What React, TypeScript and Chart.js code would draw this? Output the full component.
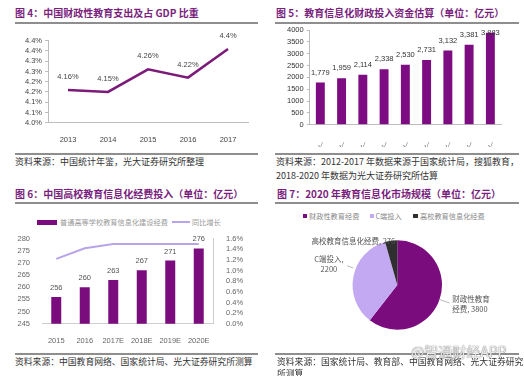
import React, { useEffect, useRef } from "react";
import { Chart, registerables } from "chart.js";
Chart.register(...registerables);

const LATIN = "'Liberation Sans', Arial, sans-serif";
const CJK = "'Noto Sans CJK SC', 'Noto Sans', sans-serif";

// 图4
const gdpYears = ["2013", "2014", "2015", "2016", "2017"];
const gdpShare = [4.16, 4.15, 4.26, 4.22, 4.36];
const gdpShareLabels = ["4.16%", "4.15%", "4.26%", "4.22%", "4.4%"];
const gdpTickValues = [4.0, 4.05, 4.1, 4.15, 4.2, 4.25, 4.3, 4.35, 4.4];
const gdpTickLabels = ["4.0%", "4.1%", "4.1%", "4.2%", "4.2%", "4.3%", "4.3%", "4.4%", "4.4%"];

// 图5
const fundCats = ["√", "√", "√", "√", "√", "√", "√", "√", "√"];
const fundValues = [1779, 1959, 2114, 2338, 2530, 2731, 3132, 3381, 3883];
const fundTickValues = [0, 500, 1000, 1500, 2000, 2500, 3000, 3500, 4000];

// 图6
const uniYears = ["2015", "2016", "2017E", "2018E", "2019E", "2020E"];
const uniFunding = [256, 260, 263, 267, 271, 276];
const uniGrowth = [1.22, 1.42, 1.5, 1.5, 1.5, 1.5];
const uniLeftTicks = [245, 250, 255, 260, 265, 270, 275, 280];
const uniRightTicks = [0, 0.2, 0.4, 0.6, 0.8, 1.0, 1.2, 1.4, 1.6];

// 图7
const marketLabels = ["财政性教育经费", "C端投入", "高校教育信息化经费"];
const marketValues = [3800, 2200, 276];

const PURPLE = "#7b0c7e";
const LAVENDER = "#c3a8f2";
const LINE_LAV = "#b9a4ea";
const DARK = "#2f2f2f";

function valueLabels(id: string, dsIndex: number, texts: string[], offset: number, color: string, minTop = -999) {
  return {
    id,
    afterDatasetsDraw(chart: any) {
      const meta = chart.getDatasetMeta(dsIndex);
      const ctx = chart.ctx;
      ctx.save();
      ctx.font = `7.5px ${LATIN}`;
      ctx.fillStyle = color;
      ctx.textAlign = "center";
      ctx.textBaseline = "middle";
      meta.data.forEach((el: any, i: number) => {
        const y = Math.max(el.y - offset, chart.chartArea.top + minTop);
        ctx.fillText(texts[i], el.x, y);
      });
      ctx.restore();
    },
  };
}

const pieLayout = [
  { split: (n: string, v: number) => [n.slice(0, 5), n.slice(5) + ", " + v], factor: 1.3, dA: 0, dx: 0, align: "left", lead: [0.98, 1.24], leadA: 0 },
  { split: (n: string, v: number) => [n + ",", String(v)], factor: 1.6, dA: 6, dx: 0, align: "center", lead: [1.2, 1.06], leadA: 10 },
  { split: (n: string, v: number) => [n + ", " + v], factor: 1.0, dA: 0, dx: 4, align: "right", lead: null as any, leadA: 0 },
];

const pieLabels = {
  id: "pieLabels",
  afterDraw(chart: any) {
    const meta = chart.getDatasetMeta(0);
    const ctx = chart.ctx;
    ctx.save();
    ctx.font = `7.5px ${CJK}`;
    ctx.fillStyle = "#555";
    ctx.strokeStyle = "#aaa";
    ctx.lineWidth = 0.8;
    ctx.textBaseline = "middle";
    meta.data.forEach((el: any, i: number) => {
      const cfg = pieLayout[i];
      const mid = (el.startAngle + el.endAngle) / 2;
      const r = el.outerRadius;
      if (cfg.lead) {
        const a = mid + (cfg.leadA * Math.PI) / 180;
        ctx.beginPath();
        ctx.moveTo(el.x + Math.cos(a) * r * cfg.lead[0], el.y + Math.sin(a) * r * cfg.lead[0]);
        ctx.lineTo(el.x + Math.cos(a) * r * cfg.lead[1], el.y + Math.sin(a) * r * cfg.lead[1]);
        ctx.stroke();
      }
      const a = mid + (cfg.dA * Math.PI) / 180;
      const ax = el.x + Math.cos(a) * r * cfg.factor + cfg.dx;
      const ay = el.y + Math.sin(a) * r * cfg.factor;
      const lines = cfg.split(marketLabels[i], marketValues[i]);
      ctx.textAlign = cfg.align;
      lines.forEach((t, k) => {
        ctx.fillText(t, ax, ay + (k - (lines.length - 1) / 2) * 10);
      });
    });
    ctx.restore();
  },
};

function Txt(props: { x: number; y: number; size: number; color: string; bold?: boolean; font?: string; children: any; extra?: any }) {
  const { x, y, size, color, bold, font, children, extra } = props;
  return (
    <div
      style={{
        position: "absolute",
        left: x,
        top: y - size * 0.7,
        fontSize: size,
        lineHeight: `${size * 1.4}px`,
        color,
        fontWeight: bold ? 700 : 400,
        fontFamily: font || CJK,
        whiteSpace: "nowrap",
        ...extra,
      }}
    >
      {children}
    </div>
  );
}

function Rule(props: { x1: number; x2: number; y: number }) {
  return <div style={{ position: "absolute", left: props.x1, top: props.y, width: props.x2 - props.x1, height: 2, background: "#8e8e8e" }} />;
}

export default function App() {
  const r1 = useRef<HTMLCanvasElement>(null);
  const r2 = useRef<HTMLCanvasElement>(null);
  const r3 = useRef<HTMLCanvasElement>(null);
  const r4 = useRef<HTMLCanvasElement>(null);

  useEffect(() => {
    const tickFont = { family: LATIN, size: 7.5 };
    const charts: Chart[] = [];

    charts.push(
      new Chart(r1.current!, {
        type: "line",
        data: {
          labels: gdpYears,
          datasets: [{ data: gdpShare, borderColor: "#7b1a78", borderWidth: 2.5, pointRadius: 0, tension: 0 }],
        },
        options: {
          responsive: false,
          animation: false,
          layout: { padding: { top: 10.7, right: 14, left: 0, bottom: 0 } },
          plugins: { legend: { display: false }, tooltip: { enabled: false } },
          scales: {
            x: {
              offset: true,
              grid: { display: false },
              border: { display: true, color: "#bdbdbd" },
              ticks: { font: tickFont, color: "#444", padding: 5, autoSkip: false, maxRotation: 0 },
              afterFit: (s: any) => { s.height = 22.3; },
            },
            y: {
              min: 4.0,
              max: 4.4,
              grid: { display: true, drawOnChartArea: false, drawTicks: true, tickLength: 3, color: "#bdbdbd" },
              border: { display: true, color: "#bdbdbd" },
              afterBuildTicks: (s: any) => { s.ticks = gdpTickValues.map((v) => ({ value: v })); },
              ticks: { font: tickFont, color: "#444", padding: 3, autoSkip: false, callback: (_v: any, i: number) => gdpTickLabels[i] },
              afterFit: (s: any) => { s.width = 48; },
            },
          },
        },
        plugins: [valueLabels("l1", 0, gdpShareLabels, 13, "#444")],
      } as any)
    );

    charts.push(
      new Chart(r2.current!, {
        type: "bar",
        data: {
          labels: fundCats,
          datasets: [{ data: fundValues, backgroundColor: "#7d0b82", barPercentage: 0.42, categoryPercentage: 1 }],
        },
        options: {
          responsive: false,
          animation: false,
          layout: { padding: { top: 8, right: 23, left: 0, bottom: 0 } },
          plugins: { legend: { display: false }, tooltip: { enabled: false } },
          scales: {
            x: {
              grid: { display: false },
              border: { display: true, color: "#bdbdbd" },
              ticks: { font: { family: "'DejaVu Sans', sans-serif", size: 8 }, color: "#666", padding: 9, autoSkip: false, maxRotation: 0 },
              afterFit: (s: any) => { s.height = 22.3; },
            },
            y: {
              min: 0,
              max: 4000,
              grid: { display: true, drawOnChartArea: false, drawTicks: true, tickLength: 3, color: "#bdbdbd" },
              border: { display: true, color: "#bdbdbd" },
              afterBuildTicks: (s: any) => { s.ticks = fundTickValues.map((v) => ({ value: v })); },
              ticks: { font: tickFont, color: "#333", padding: 3, autoSkip: false, callback: (v: any) => String(v) },
              afterFit: (s: any) => { s.width = 47.7; },
            },
          },
        },
        plugins: [valueLabels("l2", 0, fundValues.map((v) => v.toLocaleString("en-US")), 10, "#333", 3)],
      } as any)
    );

    charts.push(
      new Chart(r3.current!, {
        type: "bar",
        data: {
          labels: uniYears,
          datasets: [
            { type: "bar", data: uniFunding, backgroundColor: PURPLE, barPercentage: 0.35, categoryPercentage: 1, yAxisID: "y", order: 2 },
            { type: "line", data: uniGrowth, borderColor: LINE_LAV, borderWidth: 2, pointRadius: 0, tension: 0, yAxisID: "y1", order: 1 },
          ],
        },
        options: {
          responsive: false,
          animation: false,
          layout: { padding: { top: 10.7, right: 9, left: 0, bottom: 0 } },
          plugins: { legend: { display: false }, tooltip: { enabled: false } },
          scales: {
            x: {
              grid: { display: false },
              border: { display: true, color: "#cfcfcf" },
              ticks: { font: tickFont, color: "#666", padding: 5, autoSkip: false, maxRotation: 0 },
              afterFit: (s: any) => { s.height = 19.3; },
            },
            y: {
              position: "left",
              min: 245,
              max: 280,
              grid: { display: false },
              border: { display: false },
              afterBuildTicks: (s: any) => { s.ticks = uniLeftTicks.map((v) => ({ value: v })); },
              ticks: { font: tickFont, color: "#666", padding: 4, autoSkip: false, callback: (v: any) => String(v) },
              afterFit: (s: any) => { s.width = 42; },
            },
            y1: {
              position: "right",
              min: 0,
              max: 1.6,
              grid: { display: false },
              border: { display: true, color: "#cfcfcf" },
              afterBuildTicks: (s: any) => { s.ticks = uniRightTicks.map((v) => ({ value: v })); },
              ticks: { font: tickFont, color: "#666", padding: 5, autoSkip: false, callback: (v: any) => Number(v).toFixed(1) + "%" },
              afterFit: (s: any) => { s.width = 40; },
            },
          },
        },
        plugins: [valueLabels("l3", 0, uniFunding.map((v) => String(v)), 9, "#555")],
      } as any)
    );

    charts.push(
      new Chart(r4.current!, {
        type: "pie",
        data: {
          labels: marketLabels,
          datasets: [{ data: marketValues, backgroundColor: [PURPLE, LAVENDER, DARK], borderWidth: 0 }],
        },
        options: {
          responsive: false,
          animation: false,
          layout: { padding: { left: 90.6, right: 82, top: 12.3, bottom: 18.3 } },
          plugins: { legend: { display: false }, tooltip: { enabled: false } },
        },
        plugins: [pieLabels],
      } as any)
    );

    return () => charts.forEach((c) => c.destroy());
  }, []);

  const titleColor = "#7a1f7e";
  const srcColor = "#333";

  return (
    <div style={{ position: "fixed", left: 0, top: 0, width: 524, height: 376, overflow: "hidden", background: "#fff" }}>
      {/* Panel titles */}
      <Txt x={15} y={13.3} size={10} color={titleColor} bold>图 4：中国财政性教育支出及占 GDP 比重</Txt>
      <Txt x={276} y={13.3} size={10} color={titleColor} bold>图 5：教育信息化财政投入资金估算（单位：亿元）</Txt>
      <Txt x={15} y={194} size={10} color={titleColor} bold>图 6：中国高校教育信息化经费投入（单位：亿元）</Txt>
      <Txt x={277} y={194} size={10} color={titleColor} bold>图 7：2020 年教育信息化市场规模（单位：亿元）</Txt>

      <Rule x1={15} x2={258} y={22.3} />
      <Rule x1={275} x2={519} y={22.3} />
      <Rule x1={15} x2={258} y={153} />
      <Rule x1={275} x2={519} y={153} />
      <Rule x1={15} x2={258} y={202} />
      <Rule x1={275} x2={519} y={202} />
      <Rule x1={15} x2={258} y={352.7} />
      <Rule x1={275} x2={519} y={352.7} />

      {/* Charts */}
      <canvas ref={r1} width={262} height={115} style={{ position: "absolute", left: 0, top: 30, width: 262, height: 115 }} />
      <canvas ref={r2} width={262} height={125} style={{ position: "absolute", left: 262, top: 22, width: 262, height: 125 }} />
      <canvas ref={r3} width={262} height={115} style={{ position: "absolute", left: 0, top: 228, width: 262, height: 115 }} />
      <canvas ref={r4} width={262} height={120} style={{ position: "absolute", left: 262, top: 228, width: 262, height: 120 }} />

      {/* Legend 图6 */}
      <div style={{ position: "absolute", left: 37, top: 220, width: 20, height: 5, background: PURPLE }} />
      <Txt x={60} y={222.3} size={7.2} color="#999">普通高等学校教育信息化建设经费</Txt>
      <div style={{ position: "absolute", left: 172, top: 221.3, width: 18, height: 2, background: LINE_LAV }} />
      <Txt x={192} y={222.3} size={7.2} color="#999">同比增长</Txt>

      {/* Legend 图7 */}
      <div style={{ position: "absolute", left: 302.5, top: 213.5, width: 4.5, height: 4.5, background: PURPLE }} />
      <Txt x={309} y={215.7} size={7.2} color="#888">财政性教育经费</Txt>
      <div style={{ position: "absolute", left: 369.5, top: 213.5, width: 4.5, height: 4.5, background: LAVENDER }} />
      <Txt x={375.5} y={215.7} size={7.2} color="#888">C端投入</Txt>
      <div style={{ position: "absolute", left: 413, top: 213.5, width: 4.5, height: 4.5, background: DARK }} />
      <Txt x={420} y={215.7} size={7.2} color="#888">高校教育信息化经费</Txt>

      {/* Sources */}
      <Txt x={15} y={162} size={9} color={srcColor}>资料来源：中国统计年鉴，光大证券研究所整理</Txt>
      <Txt x={276} y={162} size={9} color={srcColor}>资料来源：2012-2017 年数据来源于国家统计局，搜狐教育，</Txt>
      <Txt x={276} y={176} size={9} color={srcColor}>2018-2020 年数据为光大证券研究所估算</Txt>
      <Txt x={15} y={362} size={8.8} color={srcColor}>资料来源：中国教育网络、国家统计局、光大证券研究所测算</Txt>
      <Txt x={277} y={362} size={8.8} color={srcColor}>资料来源：国家统计局、教育部、中国教育网络、光大证券研究</Txt>
      <Txt x={277} y={374} size={8.8} color={srcColor}>所测算</Txt>

      {/* Watermark */}
      <Txt x={411} y={352} size={14} color="rgba(255,255,255,0.85)" extra={{ textShadow: "0 0 1px #777, 0 0 1px #777" }}>@智通财经APP</Txt>
    </div>
  );
}
